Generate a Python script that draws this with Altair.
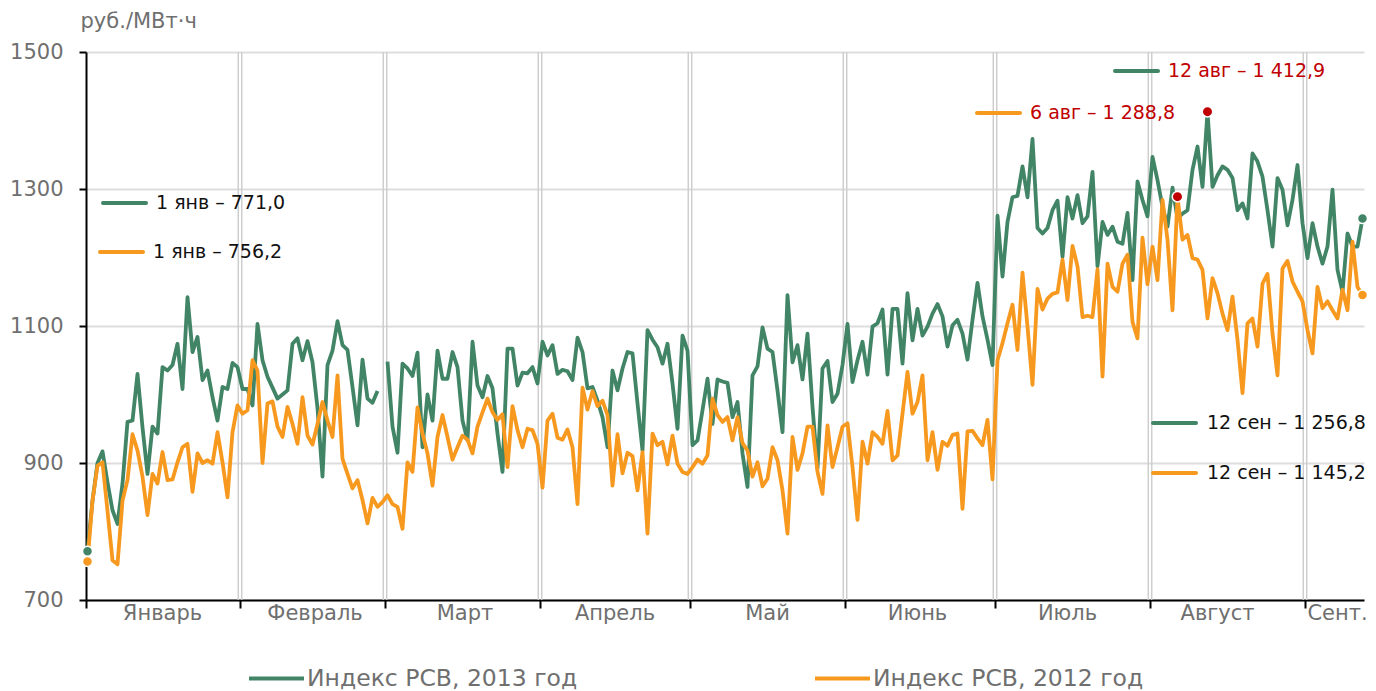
import altair as alt
import pandas as pd

# ---------------- data ----------------
S13 = "Индекс РСВ, 2013 год"
S12 = "Индекс РСВ, 2012 год"
GREEN = "#418566"
ORANGE = "#F7991E"
RED = "#C00000"

# daily index, day 0 = 1 Jan, leap-year calendar (day 59 = 29 Feb, absent in 2013)
rsv_2013 = [
    771.0, 845, 900, 917, 872, 831, 811, 870, 960, 962,
    1030, 952, 884, 953, 943, 1040, 1035, 1043, 1074, 1008,
    1142, 1062, 1084, 1021, 1035, 996, 962, 1011, 1008, 1046,
    1040, 1008, 1008, 984, 1103, 1050, 1026, 1010, 994, 1000,
    1006, 1074, 1082, 1050, 1078, 1047, 980, 880, 1043, 1064,
    1107, 1072, 1065, 1011, 955, 1051, 994, 988, 1005, None,
    1048, 953, 915, 1045, 1038, 1027, 1061, 923, 1000, 962,
    1064, 1023, 1023, 1062, 1040, 962, 933, 1077, 1013, 996,
    1027, 1009, 943, 887, 1067, 1067, 1013, 1032, 1031, 1040,
    1016, 1077, 1057, 1072, 1030, 1036, 1034, 1021, 1083, 1062,
    1009, 1011, 991, 967, 923, 1035, 1006, 1038, 1062, 1060,
    987, 918, 1094, 1080, 1069, 1045, 1074, 1016, 950, 1086,
    1064, 926, 933, 977, 1023, 957, 1022, 1019, 1017, 967,
    989, 914, 865, 1028, 1041, 1098, 1067, 1062, 1006, 945,
    1145, 1047, 1072, 1022, 1089, 982, 892, 1038, 1049, 989,
    1001, 1043, 1103, 1018, 1050, 1077, 1029, 1099, 1104, 1124,
    1029, 1125, 1125, 1045, 1148, 1079, 1125, 1086, 1099, 1118,
    1132, 1114, 1070, 1101, 1109, 1089, 1051, 1109, 1163, 1114,
    1080, 1043, 1261, 1172, 1252, 1288, 1290, 1333, 1288, 1373,
    1243, 1235, 1243, 1269, 1283, 1201, 1288, 1257, 1291, 1250,
    1260, 1325, 1187, 1252, 1233, 1245, 1223, 1220, 1265, 1167,
    1311, 1284, 1260, 1347, 1313, 1274, 1245, 1302, 1257, 1264,
    1269, 1328, 1362, 1303, 1412.9, 1303, 1320, 1333, 1328, 1316,
    1269, 1279, 1257, 1352, 1340, 1318, 1269, 1216, 1316, 1299,
    1247, 1284, 1335, 1250, 1199, 1250, 1216, 1191, 1216, 1299,
    1182, 1150, 1235, 1216, 1216, 1256.8,
]

rsv_2012 = [
    756.2, 845, 896, 901, 830, 758, 752, 845, 875, 942,
    918, 880, 824, 884, 870, 916, 875, 876, 901, 923,
    928, 858, 914, 900, 904, 899, 945, 901, 850, 945,
    984, 972, 977, 1050, 1035, 900, 987, 990, 953, 938,
    982, 957, 928, 996, 940, 927, 957, 989, 962, 938,
    1028, 906, 884, 863, 875, 846, 812, 849, 836, 843,
    853, 840, 836, 804, 901, 887, 981, 943, 914, 867,
    938, 970, 938, 905, 923, 940, 934, 914, 953, 974,
    994, 974, 963, 971, 894, 983, 948, 923, 950, 948,
    928, 864, 962, 972, 937, 934, 949, 923, 840, 1010,
    978, 1005, 983, 991, 970, 867, 942, 885, 915, 910,
    860, 916, 797, 943, 926, 931, 898, 940, 899, 887,
    884, 894, 905, 899, 911, 994, 970, 960, 967, 933,
    967, 929, 918, 880, 901, 866, 877, 923, 904, 860,
    797, 938, 890, 914, 953, 953, 887, 855, 955, 894,
    923, 953, 958, 894, 817, 931, 899, 945, 938, 928,
    976, 904, 911, 972, 1033, 972, 989, 1028, 904, 945,
    890, 931, 925, 941, 943, 833, 946, 947, 936, 926,
    963, 876, 1050, 1075, 1104, 1131, 1065, 1178, 1099, 1014,
    1154, 1124, 1140, 1147, 1149, 1197, 1138, 1217, 1187, 1113,
    1115, 1113, 1183, 1026, 1191, 1157, 1150, 1191, 1204, 1106,
    1082, 1229, 1161, 1216, 1167, 1284, 1226, 1123, 1288.8, 1226,
    1233, 1199, 1197, 1182, 1111, 1170, 1148, 1118, 1094, 1143,
    1080, 1002, 1104, 1111, 1070, 1162, 1176, 1089, 1028, 1184,
    1195, 1165, 1150, 1136, 1094, 1060, 1157, 1126, 1136, 1123,
    1111, 1153, 1123, 1223, 1157, 1145.2,
]

month_names = ["Январь", "Февраль", "Март", "Апрель", "Май", "Июнь", "Июль", "Август", "Сент."]
month_starts = [0, 31, 60, 91, 121, 152, 182, 213, 244]
month_label_pos = [15, 45.5, 75.5, 105.5, 136, 166, 196, 226, 250]
y_ticks = [700, 900, 1100, 1300, 1500]

# in-chart notes: stroke from x1 to x2 at level y, text starting at tx
note_text = ["1 янв – 771,0", "1 янв – 756,2", "12 авг – 1 412,9",
             "6 авг – 1 288,8", "12 сен – 1 256,8", "12 сен – 1 145,2"]
note_x1 = [3.1, 2.5, 205.5, 177.9, 213.1, 213.1]
note_x2 = [11.7, 11.1, 214.1, 186.5, 221.7, 221.7]
note_tx = [13.7, 13.1, 216.1, 188.5, 223.9, 223.9]
note_y = [1279.6, 1208.0, 1472.3, 1411.0, 958.4, 885.4]
note_line_color = [GREEN, ORANGE, GREEN, ORANGE, GREEN, ORANGE]
note_text_color = ["#111111", "#111111", RED, RED, "#111111", "#111111"]

# ---------------- tables ----------------
X_MIN, X_MAX = -0.3, 255.3
rows = []
for d, v in enumerate(rsv_2013):
    if v is not None:
        rows.append({"day": d, "value": v, "series": S13, "seg": "a13" if d < 59 else "b13"})
for d, v in enumerate(rsv_2012):
    rows.append({"day": d, "value": v, "series": S12, "seg": "a12"})
df = pd.DataFrame(rows)

bounds = [m - 0.5 for m in month_starts[1:]]
axis_ticks = [X_MIN] + bounds
vgrid = pd.DataFrame({"pos": [b + o for b in bounds for o in (-0.35, 0.35)]})
months = pd.DataFrame({"name": month_names, "pos": month_label_pos})

ends = []
for name, arr, col in [(S13, rsv_2013, GREEN), (S12, rsv_2012, ORANGE)]:
    ends.append({"day": 0, "value": arr[0], "c": col})
    ends.append({"day": len(arr) - 1, "value": arr[-1], "c": col})
ends = pd.DataFrame(ends)

peaks = pd.DataFrame([
    {"day": max(range(len(arr)), key=lambda k: arr[k] if arr[k] is not None else -1),
     "value": max(v for v in arr if v is not None)}
    for arr in (rsv_2013, rsv_2012)
])

notes = pd.DataFrame({"label": note_text, "x1": note_x1, "x2": note_x2, "tx": note_tx,
                      "y": note_y, "lc": note_line_color, "tc": note_text_color})

xscale = alt.Scale(domain=[X_MIN, X_MAX], nice=False, zero=False)
yscale = alt.Scale(domain=[700, 1500], nice=False, zero=False)
GREY = "#6f6f6f"

grid_v = alt.Chart(vgrid).mark_rule(color="#cccccc", strokeWidth=1.4).encode(
    x=alt.X("pos:Q", scale=xscale)
)

lines = alt.Chart(df).mark_line(strokeWidth=3.8, strokeJoin="round").encode(
    x=alt.X("day:Q", scale=xscale,
            axis=alt.Axis(values=axis_ticks, labels=False, grid=False, ticks=True,
                          tickColor="black", tickSize=8, tickWidth=2,
                          domainColor="black", domainWidth=2, title=None)),
    y=alt.Y("value:Q", scale=yscale,
            axis=alt.Axis(values=y_ticks, format="d", grid=True, gridColor="#dddddd", gridWidth=2,
                          labelFontSize=21, labelColor=GREY, labelPadding=16,
                          tickColor="black", tickSize=7, tickWidth=2,
                          domainColor="black", domainWidth=2,
                          title="руб./МВт·ч", titleAngle=0, titleAlign="left",
                          titleBaseline="alphabetic", titleX=-6, titleY=-25,
                          titleFontSize=21, titleColor=GREY, titleFontWeight="normal")),
    color=alt.Color("series:N",
                    scale=alt.Scale(domain=[S13, S12], range=[GREEN, ORANGE]),
                    legend=alt.Legend(orient="none", legendX=161, legendY=597,
                                      direction="horizontal", title=None,
                                      symbolType="stroke", symbolSize=3025,
                                      symbolStrokeWidth=4, labelFontSize=23.5,
                                      labelColor=GREY, labelOffset=1, labelLimit=600,
                                      columnPadding=229, padding=0)),
    detail="seg:N",
    order="day:Q",
)

end_pts = alt.Chart(ends).mark_point(filled=True, size=100, opacity=1, stroke="white",
                                     strokeWidth=1.5).encode(
    x=alt.X("day:Q", scale=xscale), y=alt.Y("value:Q", scale=yscale),
    fill=alt.Fill("c:N", scale=None), color=alt.value("white")
)

peak_pts = alt.Chart(peaks).mark_point(filled=True, size=110, opacity=1, fill=RED,
                                       stroke="white", strokeWidth=1.5).encode(
    x=alt.X("day:Q", scale=xscale), y=alt.Y("value:Q", scale=yscale),
    color=alt.value("white"), fill=alt.value(RED)
)

note_lines = alt.Chart(notes).mark_rule(strokeWidth=4, strokeCap="round").encode(
    x=alt.X("x1:Q", scale=xscale), x2="x2:Q", y=alt.Y("y:Q", scale=yscale),
    color=alt.Color("lc:N", scale=None)
)
note_labels = alt.Chart(notes).mark_text(align="left", baseline="middle", fontSize=19).encode(
    x=alt.X("tx:Q", scale=xscale), y=alt.Y("y:Q", scale=yscale), text="label:N",
    color=alt.Color("tc:N", scale=None)
)

month_text = alt.Chart(months).mark_text(baseline="middle", fontSize=21, color=GREY, dy=14).encode(
    x=alt.X("pos:Q", scale=xscale), y=alt.datum(700), text="name:N"
)

chart = alt.layer(
    grid_v, lines, end_pts, peak_pts, note_lines, note_labels, month_text
).properties(
    width=1278, height=548,
    autosize=alt.AutoSizeParams(type="none"),
    padding={"left": 78, "top": 44, "right": 4, "bottom": 90},
).configure(font="DejaVu Sans").configure_view(stroke=None)

chart.save("out.html", embed_options={"renderer": "svg", "actions": False})
